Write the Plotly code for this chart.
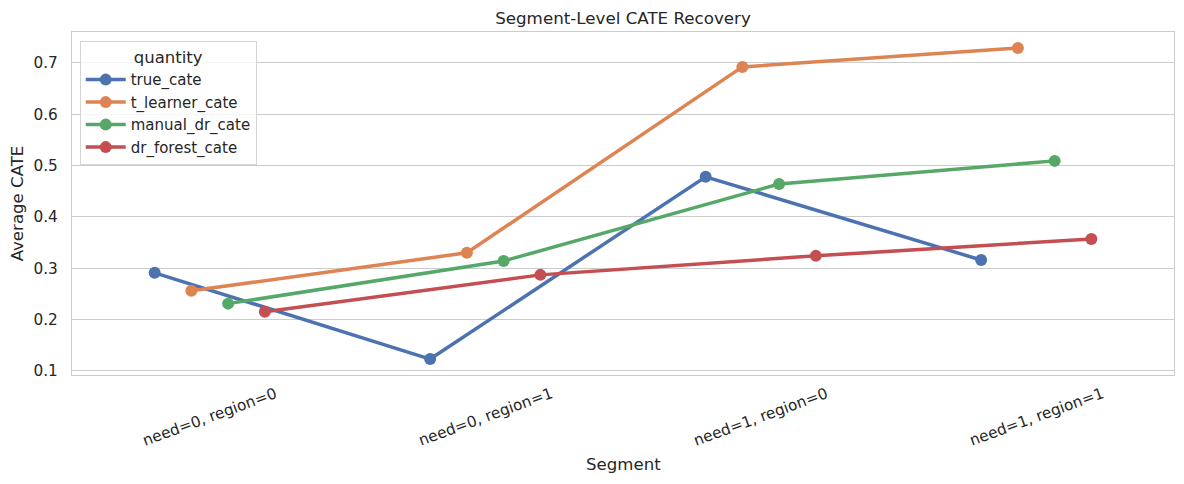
import plotly.graph_objects as go

segments = ["need=0, region=0", "need=0, region=1", "need=1, region=0", "need=1, region=1"]
quantities = ["true_cate", "t_learner_cate", "manual_dr_cate", "dr_forest_cate"]

true_cate = [0.291, 0.123, 0.478, 0.316]
t_learner_cate = [0.256, 0.330, 0.692, 0.729]
manual_dr_cate = [0.231, 0.314, 0.464, 0.509]
dr_forest_cate = [0.215, 0.287, 0.324, 0.357]

series = [true_cate, t_learner_cate, manual_dr_cate, dr_forest_cate]
colors = ["#4c72b0", "#dd8452", "#55a868", "#c44e52"]

# seaborn-style dodge of the points within each category
dodge = 0.4
n = len(quantities)
offsets = [-dodge / 2 + dodge * i / (n - 1) for i in range(n)]

# page body has an 8px margin, so the figure is 16px smaller than the window
W, H = 1168, 468

fig = go.Figure()
for name, vals, color, off in zip(quantities, series, colors, offsets):
    fig.add_trace(go.Scatter(
        x=[i + off for i in range(len(segments))],
        y=vals,
        mode="lines+markers",
        name=name,
        line=dict(color=color, width=3.5),
        marker=dict(color=color, size=12),
    ))

# rotated tick labels centred on the tick, like matplotlib rotation=20
for i, seg in enumerate(segments):
    fig.add_annotation(
        x=i, y=0, xref="x", yref="paper",
        text=seg, textangle=-20, showarrow=False,
        xanchor="center", yanchor="middle", yshift=-42,
        font=dict(size=15.3, color="#262626"),
    )
fig.add_annotation(
    x=0.5, y=0, xref="paper", yref="paper",
    text="Segment", showarrow=False,
    xanchor="center", yanchor="middle", yshift=-89,
    font=dict(size=16.6, color="#262626"),
)

fig.update_layout(
    width=W,
    height=H,
    template="plotly_white",
    plot_bgcolor="white",
    paper_bgcolor="white",
    font=dict(family="DejaVu Sans", color="#262626", size=15),
    title=dict(text="Segment-Level CATE Recovery", x=(64 + 1166) / 2 / W, xanchor="center",
               y=1 - 10 / H, yanchor="middle", font=dict(size=16.7)),
    margin=dict(l=64, r=2, t=24, b=101, autoexpand=False),
    showlegend=True,
    legend=dict(
        title=dict(text="quantity", side="top center", font=dict(size=16.5)),
        x=0.007, y=0.974, xanchor="left", yanchor="top",
        bgcolor="rgba(255,255,255,0.8)",
        bordercolor="#d5d5d5", borderwidth=1,
        font=dict(size=15),
        tracegroupgap=0,
        itemwidth=40,
    ),
)

fig.update_xaxes(
    range=[-0.5, 3.5],
    tickmode="array",
    tickvals=list(range(len(segments))),
    ticktext=["" for _ in segments],
    showgrid=False,
    zeroline=False,
    showline=True, mirror=True, linecolor="#cccccc", linewidth=1.2,
    ticks="",
    automargin=False,
)
fig.update_yaxes(
    range=[0.092, 0.760],
    tickvals=[0.1, 0.2, 0.3, 0.4, 0.5, 0.6, 0.7],
    tickformat=".1f",
    showgrid=True, gridcolor="#cccccc", gridwidth=1.2,
    zeroline=False,
    showline=True, mirror=True, linecolor="#cccccc", linewidth=1.2,
    ticks="outside", ticklen=10, tickcolor="rgba(0,0,0,0)",
    automargin=False,
    tickfont=dict(size=15.3),
    title=dict(text="Average CATE", font=dict(size=16.6), standoff=8),
)

fig.write_html("out.html")
